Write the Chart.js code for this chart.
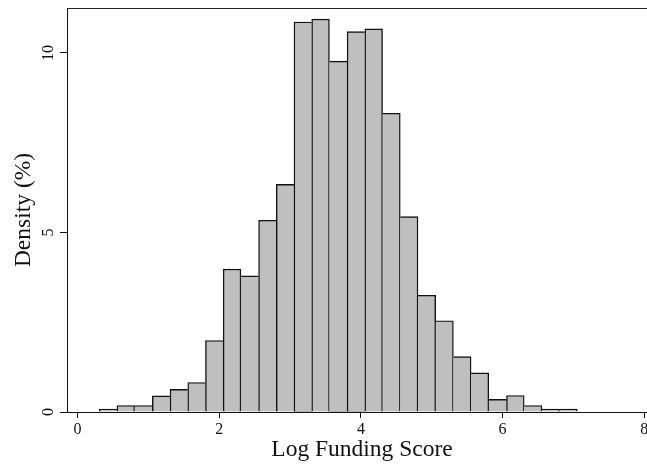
<!DOCTYPE html>
<html>
<head>
<meta charset="utf-8">
<title>Log Funding Score histogram</title>
<script src="https://cdn.jsdelivr.net/npm/chart.js@4/dist/chart.umd.min.js"></script>
<style>
  html, body { margin: 0; padding: 0; background: #ffffff; overflow: hidden; }
  /* the plot region runs a little past the right edge of the visible page */
  #wrap { width: 647px; height: 468px; overflow: hidden; }
  #hist { display: block; }
</style>
</head>
<body>
<div id="wrap"><canvas id="hist" width="657" height="468"></canvas></div>
<script>
// Histogram bins: left edge of the first bin and common bin width
const binStart = 0.305;
const binWidth = 0.25;

// Percentage of observations in each bin (bins sum to 100%)
const percents = [
  0.08, 0.18, 0.18, 0.45, 0.63, 0.82, 1.99, 3.98, 3.79, 5.34,
  6.34, 10.86, 10.94, 9.77, 10.59, 10.67, 8.32, 5.44, 3.25, 2.54,
  1.54, 1.09, 0.35, 0.46, 0.18, 0.08, 0.08
];

// Axis tick values
const xTicks = [0, 2, 4, 6, 8];
const yTicks = [0, 5, 10];

const xTitle = 'Log Funding Score';
const yTitle = 'Density (%)';

// Bar centres on the linear x scale
const binPoints = percents.map((p, i) => ({ x: binStart + binWidth * (i + 0.5), y: p }));

const serif = 'Liberation Serif';
const outline = 1.4;

// Each shared edge between neighbouring bins is outlined once, by the taller bin
function binBorder(ctx) {
  const i = ctx.dataIndex;
  const cur = percents[i];
  const prev = percents[i - 1];
  const next = percents[i + 1];
  return {
    top: outline,
    bottom: 0,
    left: (prev === undefined || prev < cur) ? outline : 0,
    right: (next === undefined || next <= cur) ? outline : 0
  };
}

// Thin frame line along the top of the plot region
const topFrame = {
  id: 'topFrame',
  afterDraw(chart) {
    const { ctx, chartArea } = chart;
    ctx.save();
    ctx.strokeStyle = '#222222';
    ctx.lineWidth = 1;
    ctx.beginPath();
    const y = Math.round(chartArea.top) + 0.5;
    ctx.moveTo(chartArea.left, y);
    ctx.lineTo(chart.width, y);
    ctx.stroke();
    ctx.restore();
  }
};

// Keep the plot region fixed: no extra room reserved for edge labels
function noEdgePadding(scale) {
  scale.paddingTop = 0;
  scale.paddingBottom = 0;
  scale.paddingLeft = 0;
  scale.paddingRight = 0;
}

new Chart(document.getElementById('hist'), {
  type: 'bar',
  data: {
    datasets: [{
      data: binPoints,
      backgroundColor: '#bfbfbf',
      borderColor: '#111111',
      borderWidth: binBorder,
      borderSkipped: false,
      barPercentage: 1.0,
      categoryPercentage: 1.0,
      grouped: false
    }]
  },
  options: {
    responsive: false,
    animation: false,
    layout: { padding: { top: 8, left: 0, right: 0, bottom: 0 } },
    plugins: {
      legend: { display: false },
      tooltip: { enabled: false }
    },
    scales: {
      x: {
        type: 'linear',
        offset: false,
        min: -0.15,
        max: 8.18,
        afterBuildTicks: (scale) => { scale.ticks = xTicks.map(v => ({ value: v })); },
        afterFit: (scale) => { scale.height = 56; noEdgePadding(scale); },
        grid: {
          display: true,
          offset: false,
          drawOnChartArea: false,
          drawTicks: true,
          tickLength: 6,
          color: '#111111',
          tickWidth: 1
        },
        border: { display: true, color: '#111111', width: 1 },
        ticks: {
          color: '#111111',
          font: { family: serif, size: 16 },
          padding: 2,
          maxRotation: 0,
          autoSkip: false
        },
        title: {
          display: true,
          text: xTitle,
          color: '#111111',
          font: { family: serif, size: 23.5 },
          padding: { top: 0, bottom: 4 }
        }
      },
      y: {
        type: 'linear',
        min: 0,
        max: 11.25,
        afterBuildTicks: (scale) => { scale.ticks = yTicks.map(v => ({ value: v })); },
        afterFit: (scale) => { scale.width = 67; noEdgePadding(scale); },
        grid: {
          display: true,
          drawOnChartArea: false,
          drawTicks: true,
          tickLength: 7,
          color: '#111111',
          tickWidth: 1
        },
        border: { display: true, color: '#111111', width: 1 },
        ticks: {
          color: '#111111',
          font: { family: serif, size: 16 },
          minRotation: 90,
          maxRotation: 90,
          crossAlign: 'center',
          padding: 3,
          autoSkip: false
        },
        title: {
          display: true,
          text: yTitle,
          color: '#111111',
          font: { family: serif, size: 23.5 },
          padding: { top: 10, bottom: 0 }
        }
      }
    }
  },
  plugins: [topFrame]
});
</script>
</body>
</html>
